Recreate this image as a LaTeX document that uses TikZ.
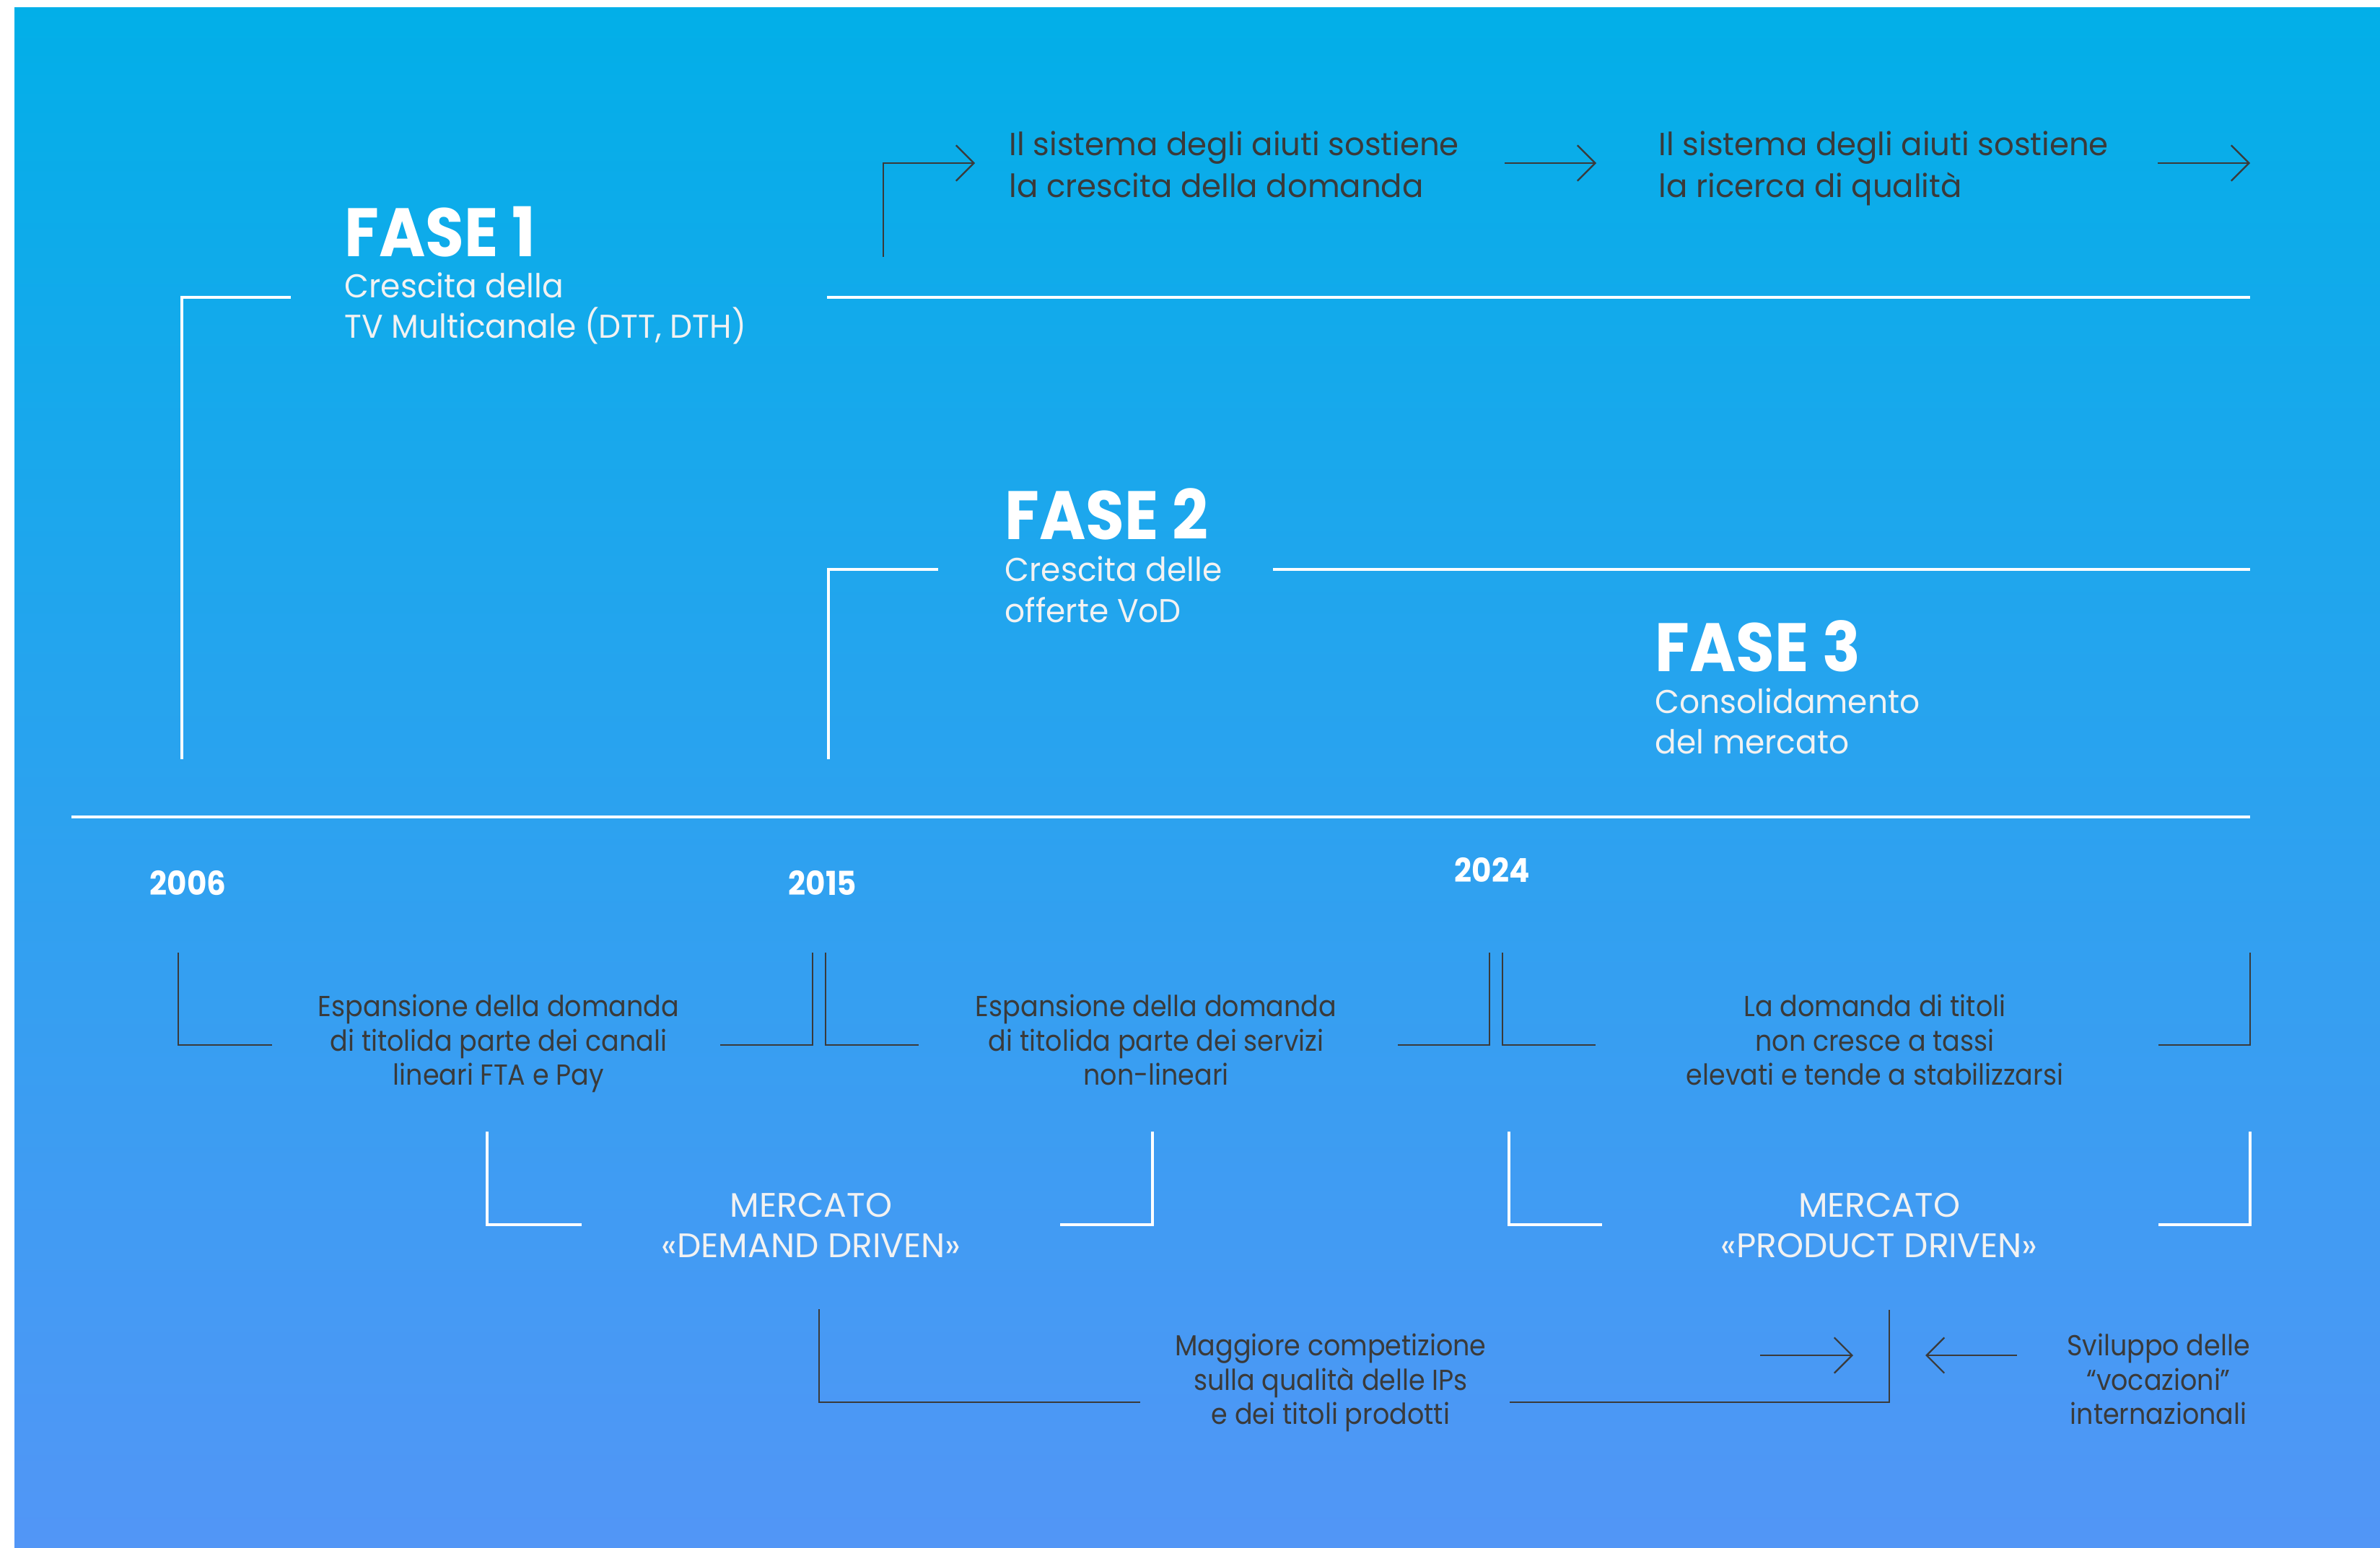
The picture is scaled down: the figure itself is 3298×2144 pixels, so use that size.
\documentclass[tikz,border=0pt]{standalone}
\usepackage{fontspec}
\setmainfont{Poppins}
\newfontfamily\popmid{Poppins}[FakeStretch=0.91]
\newfontfamily\popsub{Poppins}[FakeStretch=0.96]
\newfontfamily\pophead{Poppins}[FakeStretch=0.92]
\newfontfamily\poptop{Poppins}[FakeStretch=0.98]
\usetikzlibrary{arrows.meta}
\definecolor{bgtop}{RGB}{2,175,232}
\definecolor{bgbot}{RGB}{82,150,246}
\definecolor{dk}{RGB}{58,58,58}
\definecolor{wt}{RGB}{242,242,242}
\tikzset{
  dkline/.style={draw=dk, line width=0.65pt},
  wtline/.style={draw=white, line width=0.9pt},
  mainline/.style={draw=white, line width=1.2pt},
  arr/.style={dkline, -{Straight Barb[length=7pt,width=14pt]}},
  heading/.style={anchor=base west, inner sep=0pt, text=white, font=\pophead\fontsize{27}{30}\selectfont\bfseries},
  subhead/.style={anchor=base west, inner sep=0pt, text=wt, font=\popsub\fontsize{13}{16}\selectfont},
  toptext/.style={anchor=base west, inner sep=0pt, text=dk, font=\poptop\fontsize{12.6}{16}\selectfont},
  year/.style={anchor=base west, inner sep=0pt, text=white, font=\pophead\fontsize{13}{16}\selectfont\bfseries},
  midtext/.style={anchor=base, inner sep=0pt, text=dk, font=\popmid\fontsize{11.4}{14}\selectfont},
  market/.style={anchor=base, inner sep=0pt, text=wt, font=\fontsize{13.4}{16}\selectfont},
}
\begin{document}
\begin{tikzpicture}[x=0.01cm,y=-0.01cm]
\useasboundingbox (0,0) rectangle (3298,2144);
\shade[top color=bgtop,bottom color=bgbot] (20,10) rectangle (3298,2144);

% ---- top row
\node[toptext] (ta1) at (1398,215) {Il sistema degli aiuti sostiene};
\node[toptext] (ta2) at (1398,273) {la crescita della domanda};
\node[toptext] (tb1) at (2298,215) {Il sistema degli aiuti sostiene};
\node[toptext] (tb2) at (2298,273) {la ricerca di qualità};
\coordinate (a0s) at (1224,356);
\coordinate (a0c) at (1224,226);
\coordinate (a0e) at (1351,226);
\coordinate (a1s) at (2085,226);
\coordinate (a1e) at (2212,226);
\coordinate (a2s) at (2990,226);
\coordinate (a2e) at (3118,226);
\draw[arr] (a0s) -- (a0c) -- (a0e);
\draw[arr] (a1s) -- (a1e);
\draw[arr] (a2s) -- (a2e);

% ---- FASE 1
\node[heading] (f1) at (477,355) {FASE 1};
\node[subhead] (f1a) at (477,412) {Crescita della};
\node[subhead] (f1b) at (477,468) {TV Multicanale (DTT, DTH)};
\coordinate (l1a) at (252,1052);
\coordinate (l1b) at (252,412);
\coordinate (l1c) at (403,412);
\coordinate (l1d) at (1146,412);
\coordinate (l1e) at (3118,412);
\draw[wtline] (l1a) -- (l1b) -- (l1c);
\draw[wtline] (l1d) -- (l1e);

% ---- FASE 2
\node[heading] (f2) at (1392,747) {FASE 2};
\node[subhead] (f2a) at (1392,805) {Crescita delle};
\node[subhead] (f2b) at (1392,862) {offerte VoD};
\coordinate (l2a) at (1148,1052);
\coordinate (l2b) at (1148,789);
\coordinate (l2c) at (1300,789);
\coordinate (l2d) at (1764,789);
\coordinate (l2e) at (3118,789);
\draw[wtline] (l2a) -- (l2b) -- (l2c);
\draw[wtline] (l2d) -- (l2e);

% ---- FASE 3
\node[heading] (f3) at (2293,930) {FASE 3};
\node[subhead] (f3a) at (2293,988) {Consolidamento};
\node[subhead] (f3b) at (2293,1044) {del mercato};

% ---- timeline
\coordinate (tl0) at (99,1132);
\coordinate (tl1) at (3118,1132);
\draw[mainline] (tl0) -- (tl1);
\node[year] (y1) at (207,1240) {2006};
\node[year] (y2) at (1092,1240) {2015};
\node[year] (y3) at (2015,1222) {2024};

% ---- row 1 brackets
\draw[dkline] (247,1320) coordinate (b1a) -- (247,1448) coordinate (b1b) -- (377,1448) coordinate (b1c);
\draw[dkline] (998,1448) coordinate (b2a) -- (1126,1448) coordinate (b2b) -- (1126,1320) coordinate (b2c);
\draw[dkline] (1144,1320) coordinate (b3a) -- (1144,1448) coordinate (b3b) -- (1273,1448) coordinate (b3c);
\draw[dkline] (1937,1448) coordinate (b4a) -- (2064,1448) coordinate (b4b) -- (2064,1320) coordinate (b4c);
\draw[dkline] (2082,1320) coordinate (b5a) -- (2082,1448) coordinate (b5b) -- (2211,1448) coordinate (b5c);
\draw[dkline] (2991,1448) coordinate (b6a) -- (3118,1448) coordinate (b6b) -- (3118,1320) coordinate (b6c);

\node[midtext] (e1a) at (691,1408) {Espansione della domanda};
\node[midtext] (e1b) at (691,1456) {di titolida parte dei canali};
\node[midtext] (e1c) at (691,1503) {lineari FTA e Pay};
\node[midtext] (e2a) at (1602,1408) {Espansione della domanda};
\node[midtext] (e2b) at (1602,1456) {di titolida parte dei servizi};
\node[midtext] (e2c) at (1602,1503) {non-lineari};
\node[midtext] (e3a) at (2598,1408) {La domanda di titoli};
\node[midtext] (e3b) at (2598,1456) {non cresce a tassi};
\node[midtext] (e3c) at (2598,1503) {elevati e tende a stabilizzarsi};

% ---- row 2 white brackets
\draw[wtline] (675,1568) coordinate (w1a) -- (675,1697) coordinate (w1b) -- (806,1697) coordinate (w1c);
\draw[wtline] (1469,1697) coordinate (w2a) -- (1597,1697) coordinate (w2b) -- (1597,1568) coordinate (w2c);
\draw[wtline] (2091,1568) coordinate (w3a) -- (2091,1697) coordinate (w3b) -- (2220,1697) coordinate (w3c);
\draw[wtline] (2991,1697) coordinate (w4a) -- (3118,1697) coordinate (w4b) -- (3118,1568) coordinate (w4c);
\node[market] (m1a) at (1124,1686) {MERCATO};
\node[market] (m1b) at (1124,1742) {«DEMAND DRIVEN»};
\node[market] (m2a) at (2604,1686) {MERCATO};
\node[market] (m2b) at (2604,1742) {«PRODUCT DRIVEN»};

% ---- row 3
\draw[dkline] (1135,1814) coordinate (r1a) -- (1135,1943) coordinate (r1b) -- (1580,1943) coordinate (r1c);
\draw[dkline] (2092,1943) coordinate (r2a) -- (2618,1943) coordinate (r2b) -- (2618,1815) coordinate (r2c);
\node[midtext] (g1) at (1844,1878) {Maggiore competizione};
\node[midtext] (g2) at (1844,1926) {sulla qualità delle IPs};
\node[midtext] (g3) at (1844,1973) {e dei titoli prodotti};
\coordinate (ar1s) at (2439,1878);
\coordinate (ar1e) at (2568,1878);
\coordinate (ar2s) at (2795,1878);
\coordinate (ar2e) at (2668,1878);
\draw[arr] (ar1s) -- (ar1e);
\draw[arr] (ar2s) -- (ar2e);
\node[midtext] (s1) at (2991,1878) {Sviluppo delle};
\node[midtext] (s2) at (2991,1926) {“vocazioni”};
\node[midtext] (s3) at (2991,1973) {internazionali};
\end{tikzpicture}
\end{document}
